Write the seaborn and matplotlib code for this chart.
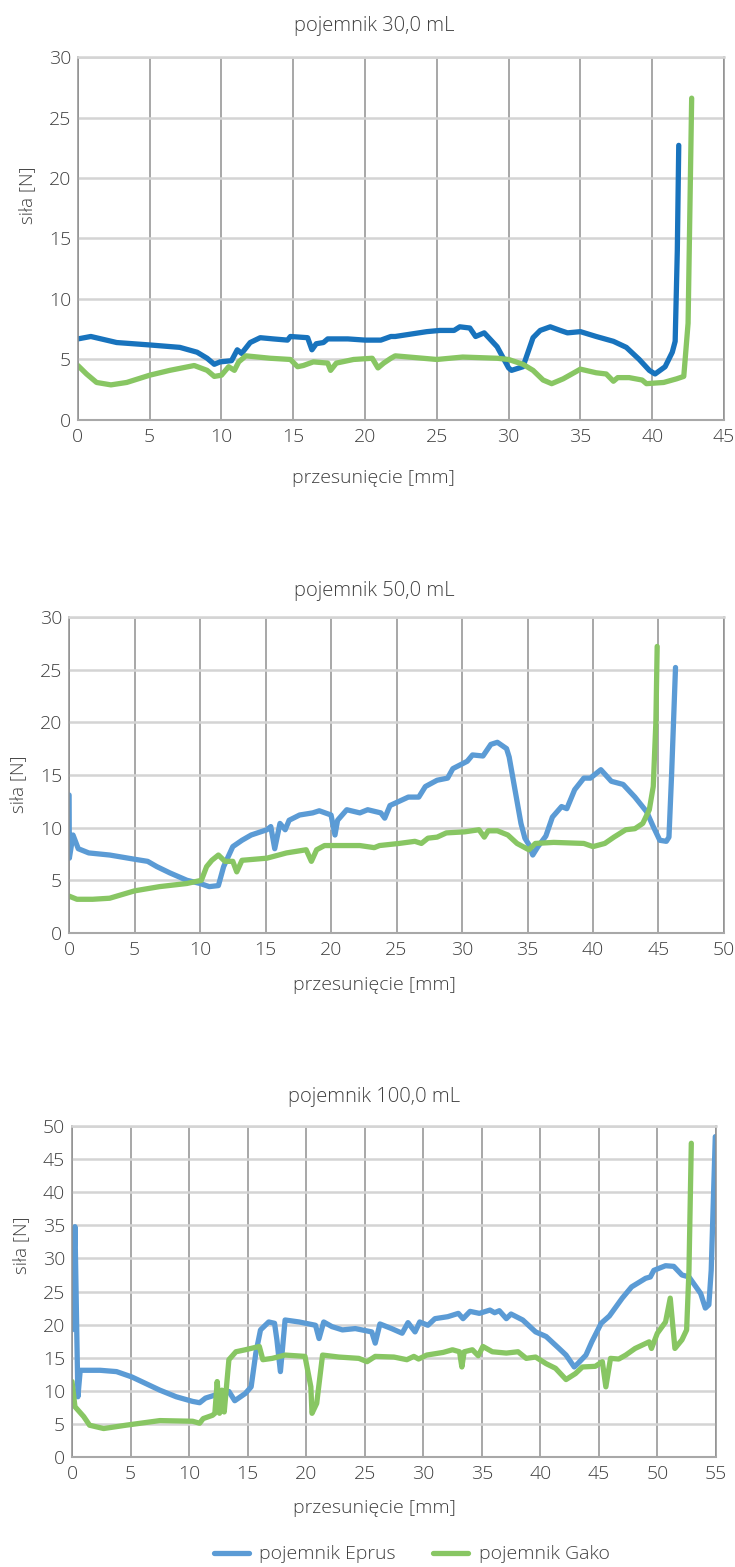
import pandas as pd
import matplotlib.pyplot as plt
import seaborn as sns

# pojemnik 30,0 mL
e30_x = [0, 0.9, 2.7, 5, 7.1, 8.3, 9.0, 9.5, 9.9, 10.7, 11.1, 11.4, 12.0, 12.7, 13.6, 14.6, 14.8, 16.0, 16.3, 16.6,
         17.1, 17.4, 18.8, 20.0, 21.1, 21.8, 22.1, 24.3, 25.2, 26.2, 26.6, 27.3, 27.7, 28.3, 29.2, 30.0, 30.2, 31.0,
         31.7, 32.2, 32.9, 33.6, 34.1, 35.0, 36.1, 37.3, 38.2, 39.1, 39.8, 40.2, 40.9, 41.4, 41.6, 41.75, 41.85]
e30_y = [6.7, 6.9, 6.4, 6.2, 6.0, 5.6, 5.1, 4.6, 4.8, 4.9, 5.8, 5.5, 6.4, 6.8, 6.7, 6.6, 6.9, 6.8, 5.8, 6.3,
         6.4, 6.7, 6.7, 6.6, 6.6, 6.9, 6.9, 7.3, 7.4, 7.4, 7.7, 7.6, 6.9, 7.2, 6.05, 4.3, 4.1, 4.4,
         6.8, 7.4, 7.7, 7.4, 7.2, 7.3, 6.9, 6.5, 6.0, 5.0, 4.1, 3.8, 4.4, 5.6, 6.5, 14.0, 22.7]
g30_x = [0, 0.6, 1.3, 2.3, 3.4, 5.0, 6.4, 8.1, 9.0, 9.5, 10.0, 10.5, 10.9, 11.2, 11.7, 13.4, 14.8, 15.3, 15.7,
         16.4, 17.4, 17.6, 18.0, 19.2, 20.5, 20.9, 21.3, 21.8, 22.1, 25.0, 26.8, 29.2, 30.0, 31.0, 31.7, 32.4,
         33.0, 33.8, 35.0, 36.1, 36.8, 37.3, 37.6, 38.4, 39.3, 39.6, 40.8, 41.7, 42.2, 42.5, 42.75]
g30_y = [4.5, 3.8, 3.1, 2.9, 3.1, 3.7, 4.1, 4.5, 4.1, 3.6, 3.7, 4.4, 4.1, 4.8, 5.3, 5.1, 5.0, 4.4, 4.5,
         4.8, 4.7, 4.1, 4.7, 5.0, 5.1, 4.3, 4.7, 5.1, 5.3, 5.0, 5.2, 5.1, 5.0, 4.6, 4.1, 3.3,
         3.0, 3.4, 4.2, 3.9, 3.8, 3.2, 3.5, 3.5, 3.3, 3.0, 3.1, 3.4, 3.6, 8.0, 26.6]

# pojemnik 50,0 mL
e50_x = [0, 0.02, 0.3, 0.7, 1.5, 3.1, 5.0, 6.0, 6.7, 7.7, 9.0, 10.0, 10.7, 11.4, 11.8, 12.5, 13.2, 13.9, 15.1,
         15.4, 15.7, 16.1, 16.5, 16.8, 17.6, 18.6, 19.1, 20.0, 20.3, 20.5, 21.2, 22.2, 22.8, 23.8, 24.1, 24.5,
         25.2, 25.9, 26.7, 27.2, 28.1, 28.9, 29.3, 30.4, 30.8, 31.6, 32.2, 32.7, 33.4, 33.6, 34.0, 34.5, 34.8,
         35.1, 35.4, 35.8, 36.4, 36.9, 37.6, 38.0, 38.6, 39.3, 39.8, 40.6, 41.4, 42.3, 43.2, 44.1, 44.6, 45.1,
         45.6, 45.8, 46.0, 46.3]
e50_y = [13.1, 7.1, 9.3, 8.0, 7.6, 7.4, 7.0, 6.8, 6.3, 5.7, 5.0, 4.7, 4.4, 4.5, 6.3, 8.2, 8.8, 9.3, 9.8,
         10.1, 8.0, 10.4, 9.8, 10.7, 11.2, 11.4, 11.6, 11.2, 9.3, 10.7, 11.7, 11.4, 11.7, 11.4, 10.9, 12.1,
         12.5, 12.9, 12.9, 13.9, 14.5, 14.7, 15.6, 16.3, 16.9, 16.8, 17.9, 18.1, 17.5, 16.7, 13.9, 10.4, 9.0,
         8.4, 7.4, 8.2, 9.2, 11.0, 12.0, 11.8, 13.6, 14.7, 14.7, 15.5, 14.4, 14.1, 12.9, 11.5, 10.1, 8.8,
         8.7, 9.1, 15.0, 25.2]
g50_x = [0, 0.6, 1.8, 3.1, 5.0, 6.9, 9.0, 10.1, 10.5, 10.9, 11.4, 11.9, 12.5, 12.8, 13.2, 15.1, 16.6, 18.1,
         18.5, 18.9, 19.5, 20.9, 22.2, 23.3, 23.7, 25.2, 26.4, 26.9, 27.4, 28.1, 28.8, 30.2, 31.3, 31.7, 32.0,
         32.7, 33.5, 34.2, 35.1, 35.6, 37.0, 39.3, 40.0, 40.9, 41.6, 42.5, 43.2, 43.8, 44.3, 44.6, 44.8, 44.9]
g50_y = [3.5, 3.2, 3.2, 3.3, 4.0, 4.4, 4.7, 5.0, 6.3, 6.9, 7.4, 6.8, 6.8, 5.8, 6.9, 7.1, 7.6, 7.9,
         6.8, 7.9, 8.3, 8.3, 8.3, 8.1, 8.3, 8.5, 8.7, 8.5, 9.0, 9.1, 9.5, 9.6, 9.8, 9.1, 9.7,
         9.7, 9.3, 8.5, 7.9, 8.5, 8.6, 8.5, 8.2, 8.5, 9.1, 9.8, 9.9, 10.4, 11.7, 13.9, 20.0, 27.2]

# pojemnik 100,0 mL
e100_x = [0, 0.25, 0.5, 0.7, 2.4, 3.8, 5.1, 7.5, 8.9, 10.3, 10.9, 11.4, 12.3, 13.4, 13.9, 14.8, 15.3, 15.7,
          16.1, 16.8, 17.3, 17.5, 17.8, 18.2, 19.4, 20.8, 21.1, 21.5, 22.2, 23.1, 24.2, 25.6, 25.9, 26.3,
          27.3, 28.2, 28.7, 29.3, 29.7, 30.4, 31.0, 32.1, 33.0, 33.4, 34.0, 34.8, 35.7, 36.1, 36.5, 37.1,
          37.5, 38.5, 39.6, 40.5, 41.6, 42.2, 42.9, 43.2, 43.9, 44.4, 45.2, 45.9, 47.0, 47.8, 49.0, 49.4,
          49.7, 50.7, 51.4, 52.1, 52.7, 53.1, 53.7, 54.1, 54.4, 54.6, 54.95]
e100_y = [19.2, 34.8, 9.1, 13.1, 13.1, 12.9, 12.1, 10.1, 9.1, 8.4, 8.2, 8.9, 9.4, 9.9, 8.5, 9.6, 10.6, 15.7,
          19.2, 20.4, 20.2, 17.7, 12.9, 20.7, 20.4, 19.9, 17.9, 20.4, 19.7, 19.2, 19.4, 18.9, 17.2, 20.1,
          19.4, 18.7, 20.3, 18.9, 20.4, 19.9, 20.9, 21.2, 21.7, 20.9, 22.0, 21.7, 22.2, 21.8, 22.1, 20.9,
          21.6, 20.7, 18.9, 18.2, 16.4, 15.4, 13.6, 14.1, 15.4, 17.4, 20.2, 21.3, 24.0, 25.7, 27.0, 27.2,
          28.2, 28.9, 28.8, 27.5, 27.2, 26.2, 24.7, 22.5, 23.0, 28.2, 48.4]
g100_x = [0, 0.25, 1.0, 1.5, 2.7, 4.6, 7.5, 10.3, 10.9, 11.2, 12.0, 12.2, 12.4, 12.6, 12.8, 13.0, 13.4, 14.0,
          14.8, 16.0, 16.3, 17.1, 18.2, 19.9, 20.4, 20.5, 20.9, 21.4, 22.8, 24.5, 25.2, 25.9, 27.5, 28.6,
          29.2, 29.6, 30.3, 31.7, 32.5, 33.1, 33.3, 33.5, 34.2, 34.7, 35.1, 35.9, 37.1, 38.1, 38.8, 39.6,
          40.5, 41.3, 42.2, 43.0, 43.6, 44.7, 45.3, 45.6, 46.0, 46.7, 47.3, 48.1, 49.3, 49.5, 50.0, 50.7,
          51.1, 51.5, 52.1, 52.5, 52.7, 52.9]
g100_y = [11.4, 7.6, 6.1, 4.8, 4.3, 4.8, 5.5, 5.4, 5.1, 5.8, 6.3, 6.6, 11.4, 6.6, 10.1, 6.8, 14.7, 15.9,
          16.2, 16.7, 14.7, 14.9, 15.4, 15.2, 10.6, 6.6, 8.1, 15.4, 15.1, 14.9, 14.4, 15.2, 15.1, 14.7,
          15.2, 14.8, 15.4, 15.8, 16.2, 15.9, 13.6, 15.9, 16.2, 15.3, 16.7, 15.9, 15.7, 15.9, 14.9, 15.1,
          14.1, 13.4, 11.7, 12.6, 13.6, 13.7, 14.4, 10.6, 14.9, 14.8, 15.4, 16.4, 17.4, 16.4, 18.7, 20.4,
          24.0, 16.4, 17.7, 19.2, 28.2, 47.4]

titles = ['pojemnik 30,0 mL', 'pojemnik 50,0 mL', 'pojemnik 100,0 mL']
series = ['pojemnik Eprus', 'pojemnik Gako']
xmax = [45, 50, 55]
ymax = [30, 30, 50]

GREEN = '#88c663'
palettes = [['#1873bd', GREEN], ['#5b9bd5', GREEN], ['#5b9bd5', GREEN]]

sns.set_theme(style='white')
plt.rcParams['font.family'] = ['Open Sans', 'DejaVu Sans']
plt.rcParams['font.weight'] = 'light'
plt.rcParams['axes.titleweight'] = 'light'
plt.rcParams['axes.labelweight'] = 'light'

fig = plt.figure(figsize=(7.35, 15.67), dpi=100)
# axes boxes in figure fractions (left, bottom, width, height)
boxes = [(0.106, 0.732, 0.879, 0.2316),
         (0.094, 0.4046, 0.891, 0.2017),
         (0.098, 0.0702, 0.876, 0.2112)]
title_pads = [19, 15, 17]
xlabel_pads = [16, 12, 11]
# titles / x labels sit centred on the whole chart area, not on the plot box
text_x = [0.458, 0.466, 0.469]
ylabel_y = [0.62, 0.47, 0.64]

data = [(e30_x, e30_y, g30_x, g30_y),
        (e50_x, e50_y, g50_x, g50_y),
        (e100_x, e100_y, g100_x, g100_y)]

handles = None
for i, (ex, ey, gx, gy) in enumerate(data):
    ax = fig.add_axes(boxes[i])
    df = pd.concat([
        pd.DataFrame({'x': ex, 'y': ey, 'seria': series[0]}),
        pd.DataFrame({'x': gx, 'y': gy, 'seria': series[1]}),
    ], ignore_index=True)
    sns.lineplot(data=df, x='x', y='y', hue='seria', palette=palettes[i], sort=False,
                 estimator=None, linewidth=3.8, ax=ax, legend=(i == 2))
    if i == 2:
        handles, labels = ax.get_legend_handles_labels()
        ax.get_legend().remove()

    ax.set_xlim(0, xmax[i])
    ax.set_ylim(0, ymax[i])
    ax.set_xticks(range(0, xmax[i] + 1, 5))
    ax.set_yticks(range(0, ymax[i] + 1, 5))
    ax.xaxis.grid(True, color='#8f8f8f', linewidth=1.1)
    ax.yaxis.grid(True, color='#d4d4d4', linewidth=1.8)
    ax.set_axisbelow(True)
    for side in ['left', 'right']:
        ax.spines[side].set_color('#8f8f8f')
        ax.spines[side].set_linewidth(1.1)
    ax.spines['top'].set_color('#d4d4d4')
    ax.spines['top'].set_linewidth(1.8)
    ax.spines['bottom'].set_color('#a8a8a8')
    ax.spines['bottom'].set_linewidth(1.5)
    ax.tick_params(axis='both', length=0, labelsize=14, labelcolor='#404040')
    ax.tick_params(axis='x', pad=6)
    ax.tick_params(axis='y', pad=5)
    ax.set_title(titles[i], fontsize=14.5, color='#404040', pad=title_pads[i], fontweight='light',
                 x=text_x[i])
    ax.set_xlabel('przesunięcie [mm]', fontsize=14, color='#404040', labelpad=xlabel_pads[i],
                  fontweight='light')
    ax.xaxis.label.set_x(text_x[i])
    ax.set_ylabel('siła [N]', fontsize=13.5, color='#404040', labelpad=9, fontweight='light')
    ax.yaxis.label.set_y(ylabel_y[i])

fig.legend(handles, labels, loc='center', bbox_to_anchor=(0.56, 0.008), ncol=2, frameon=False,
           handlelength=1.8, handletextpad=0.55, columnspacing=1.9, labelcolor='#404040',
           prop={'weight': 'light', 'size': 14})

fig.savefig('out.png', dpi=100)
